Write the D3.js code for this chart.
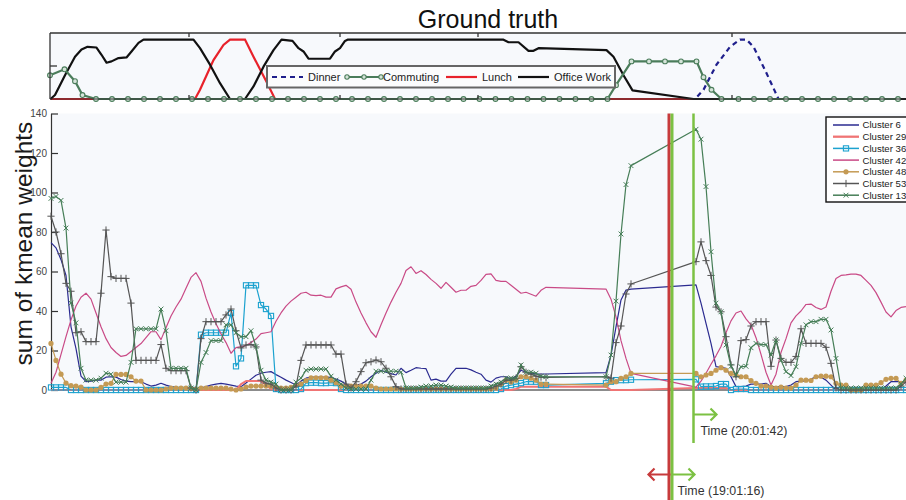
<!DOCTYPE html>
<html>
<head>
<meta charset="utf-8">
<script src="https://cdn.jsdelivr.net/npm/d3@7"></script>
<style>
  body { margin: 0; background: #fff; }
  svg { display: block; font-family: "Liberation Sans", Arial, Helvetica, sans-serif; }
</style>
</head>
<body>
<svg id="chart" width="906" height="500"></svg>
<script>
// ---- sample grid (sample index; two stretches of missing samples) ----
const sampleIdx = [...d3.range(0, 100), ...d3.range(111, 117), ...d3.range(129, 172)];

// ---- cluster weight series (one value per sample) ----
const cluster6 = [
  74.6,72,66,58,32,21,7,4.2,4.5,5,
  5,6.5,6.7,6.5,5.3,4.5,4.2,4.2,4.2,3,
  2,2.5,3.4,2.5,1.7,1.5,1,0.5,0,0.5,
  1,1.7,2.5,3,3.4,3,2.5,2,1.7,3.5,
  5.5,7.5,8.5,9,9.3,7.8,6.5,5,3.8,2.5,
  4.5,6,6.5,6.5,6.5,6.5,6.4,5.5,4.5,3,
  2,2.5,3,4.5,6.7,8.5,10,9,8.3,7.6,
  11,8.8,10,11.3,11,10.8,5,5.5,4.5,4.5,
  8,11,11,11,10.2,9,8,5,4,6,
  6.7,6.7,5.5,7,10,9,8.4,8.2,8.1,8.1,
  8.8,17.7,32,45.6,50.6,51.1,
  53.2,44,33.7,23.6,11.8,11.5,11,6.7,1.7,1.7,
  2,3,3,3,3.4,1.7,1.7,1.7,1.7,2.5,
  4.2,4.5,4.5,5.5,6.7,6.5,5,2.5,0,0,
  0,0,0,0,0,0,0,0,2,4.2,
  4.2,4.2,4
];
const cluster29 = [
  0,0,0,0,0,0,0,0,0,0,
  0,0,0,0,0,0,0,0,0,0,
  0,0,0,0,0,0,0,0,0,0,
  0,0,0,0,0,0,0,0,3,4.5,
  4.5,4.5,4.5,2.5,0.5,0,0,0,0,0,
  0,0,0,0,0,0,0,0,0,0,
  0,0,0,0,0,0,0,0,0,0,
  0,0,0,0,0,0,0,0,0,0,
  0,0,0,0,0,0,0,0,0,0,
  0,0,0,0.5,1.7,1.7,1.7,1.7,1.7,1.7,
  1.7,0,0,0,0,0,
  1,1,1,1,1,1,1,0,0,0,
  0,0,0,0,0,0,0,0,0,0,
  0,0,0,0,0,0,0,0,0,0,
  0,0,0,0,0,0,0,0,0,0,
  0,0,0
];
const cluster36 = [
  1.3,1.3,1.3,1.3,0,0,0,0,0,0,
  0,0,0,0,0,0,0,0,0,0,
  0,0,0,0,0,0,0,0,0,0,
  28,29,29,29,29,29,39,12,16,53,
  53,53,43,41,37.5,0.5,0,0,0,0,
  0.5,3.5,3.7,3.7,3.5,3.5,3.7,3.5,0.5,0,
  0,0,0,0,0,0,0,0,0,0,
  0,0,0,0,0,0,0,0,0,0,
  0,0,0,0,0,0,0,0,0,0,
  0.5,2,2.5,3,3.5,4.2,4.2,4.2,2.5,2.5,
  3.4,4.2,5,5,5,5.2,
  5.4,1.7,1.8,1.8,2,3,3,0,0.5,0.5,
  0.5,0,0,0,0,0,0,0,0,0,
  0,0,0,0,0,0,0,0,0,0,
  0,0,0,0,0,0,0,0,0,0,
  0,0,0
];
const cluster42 = [
  3.4,9,18,27,35.5,42.5,47,49,46,39,
  32,26,21.5,19,17,17.5,19.5,21.5,23.5,26.5,
  29.5,29.5,25.5,31.5,37.5,42,46,51.5,57,59.4,
  55,46.5,39.5,33.5,28.5,24,18.6,21.5,22,22.5,
  24,25.8,28.5,29,29.5,34.8,39,42.5,45,47,
  49,49.5,48,47.8,48,47,47,51.2,52.2,53,
  51,44.5,39,34,29.5,26.7,33,39,44.5,49.5,
  54,60.5,62.4,59,60.4,58.5,56,54,51.5,54.5,
  52,49.5,50.5,50.5,52.5,53,55.5,58.5,58.8,55.5,
  55,55,53,51,49,49.5,48.5,47.5,50.5,52,
  51.1,46,37,25,16,8.4,
  1.5,4.5,8.5,13,17.3,22,29,35,39,40,
  36,33,26.5,18,9,2.5,8,19,26,34,
  37.5,40,43.3,43.5,41.8,40.8,42,50,56.5,58,
  58.3,58.7,58.7,58,55.5,53,49.3,44.5,39.5,37,
  40.2,41.8,42.2
];
const cluster48 = [
  23.6,15,8,3.5,2.2,2,1.5,0,0,0,
  1.3,3,3.4,7.9,7.9,7.9,6.7,4.5,4.5,0,
  0,0,0,0.5,1,1,1,1,0.8,0.5,
  1,1,1,1,1,1,0.5,0,0.5,1.5,
  2,2,2,2,2,1.5,1,1,1.3,2.5,
  3,4.7,6.2,6.2,6.2,6.2,5,3.7,2,2,
  2,2,2,2,2,1,0.5,0.5,0.5,0.5,
  0.5,0.5,0.5,0.5,0.5,0.5,0.5,0.5,0.5,0.5,
  0.5,0.5,0.5,0.5,0.5,0.5,0.5,0.5,0.5,1,
  3,5,4,5,6.7,6.7,6,5,3,3,
  2.5,4.2,4.2,5.9,6.7,8.4,
  8.4,6.7,7.6,8.4,10,11.3,10,8.4,7.6,6.7,
  6.7,4.7,3.4,2,2,1.5,1,1.5,1,1,
  2.5,5,5,4.8,6.7,7,7,6.7,3.4,2.5,
  2.5,0,0,0,2.5,2.5,2.5,3.7,5.4,5.9,
  5.9,3.4,5
];
const cluster53 = [
  88,80,69,54,50,29,29.5,24.5,24.5,24.5,
  49,81,57.4,56.5,56.5,56.5,44,15,15,15,
  15,15,23,11,9.8,9.8,9.8,9.8,1,0,
  26,34.6,34.6,34.6,34.6,38,41,30,21.3,22.8,
  23,21.8,5,3.5,3,1,0,0,0,2,
  15,22.8,22.8,22.8,22.8,22.8,22.8,18.2,18.2,3,
  1,4.2,9.3,13.8,14.3,15.2,14.3,11,6.7,1.7,
  0.5,0.5,0.5,0.5,0.5,0.5,0.5,0.5,0.5,0.5,
  0.5,0.5,0.5,0.5,0.5,0.5,0.5,0.5,1,2,
  3,5,5,6,11.8,9,8,7,6.5,6.4,
  6.7,6,24,32.4,48.6,53.7,
  65,75,65.5,58,42,39.6,27,12.7,6.7,25,
  25.5,32.4,34.6,34.6,34.6,12,25.3,16,14,14,
  17,31,23.6,23.6,23.6,23.6,21.6,13.5,1,0,
  0,0,0,0,0,0,0,0,0,0,
  0,2,4
];
const cluster13 = [
  97,98,96,82,44,34,11,5,5,5,
  6,8.5,8,4,4,4,14,31,31,31,
  31,31,41,30,11,11,11,11,1,0,
  14,19,25,25,25,33,33,29,27,27,
  30,22,10,5,4,3,0,0,0,4,
  6,10,10.6,10.6,10.6,10.6,7,5,3,1,
  0.5,0.5,0.5,0.5,5,9.5,9.5,9.5,9.5,9.5,
  9,1,1,1,1.5,2,2,2.5,2.5,2,
  1.5,1,1,1,1,1,1,1,2,3,
  4,6,6,6,12.7,9,9,8.5,7,6.7,
  6.7,17.7,45,79,104,113.6,
  132,127,103,70,44,39.6,22.8,12,7.6,11.8,
  12,21.4,23.6,23,23,17.7,25.3,15,9.3,7.3,
  11.8,23.6,33,34.6,34.6,35.8,35.8,30.4,16,1,
  1,1,1,1,1,1,1,1,1,1,
  1,3,6
];

// ---- ground truth activities: [sample index, level] ----
const officeWork = [
  [-0.1,0],[0.8,0.06],[2.8,0.36],[4.8,0.64],[6.1,0.75],[7.3,0.79],[9.1,0.78],[10.1,0.67],
  [11.1,0.55],[12.1,0.57],[13.5,0.62],[15.1,0.63],[16.1,0.72],[17.5,0.85],[18.5,0.9],
  [28.5,0.9],[29.8,0.77],[31.8,0.52],[33.8,0.24],[35.8,0],[38.8,0],[40.5,0.19],[42.5,0.49],
  [44.5,0.74],[46.1,0.9],[48.3,0.88],[49.5,0.77],[50.5,0.72],[51.5,0.61],[55.8,0.61],
  [56.8,0.72],[57.8,0.77],[58.8,0.88],[59.4,0.9],[90.4,0.9],[91.5,0.86],[93.5,0.86],
  [95.5,0.73],[96.5,0.73],[97.5,0.77],[111.1,0.74],[112.5,0.64],[114.5,0.36],[116.3,0.13],
  [128.5,0],[171,0]
];
const lunch = [
  [-0.1,0],[28.8,0],[29.8,0.14],[32.5,0.59],[34.5,0.82],[35.8,0.9],[38.8,0.9],
  [40.5,0.64],[43.1,0.26],[44.8,0],[171,0]
];
const dinner = [
  [-0.1,0],[128.8,0],[130.5,0.14],[133.1,0.52],[135.8,0.79],[137.8,0.9],[139.1,0.9],
  [140.5,0.79],[142.8,0.44],[145.5,0],[171,0]
];
const commuting = [
  [-0.2,0.36],[2.7,0.45],[4.8,0.27],[6.3,0.06],[9,0],[12.2,0],[15.4,0],[18.6,0],[21.8,0],
  [25,0],[28.2,0],[31.4,0],[34.6,0],[37.8,0],[41,0],[44.2,0],[47.4,0],[50.6,0],[53.8,0],
  [57,0],[60.2,0],[63.4,0],[66.6,0],[69.8,0],[73,0],[76.2,0],[79.4,0],[82.5,0],[85.7,0],
  [88.9,0],[92.1,0],[95.3,0],[98.5,0],[101.7,0],[104.9,0],[108.1,0],[111.3,0],[113,0.21],
  [116.1,0.57],[119.6,0.57],[122.8,0.57],[126,0.57],[129.1,0.57],[130.5,0.33],[132.1,0.14],
  [134.1,0],[137.5,0],[140.6,0],[143.8,0],[147,0],[150.2,0],[153.4,0],[156.6,0],[159.8,0],
  [163,0],[166.2,0],[169.4,0]
];
const groundTicks = [27.6, 57.8, 85.4, 136.2];

// ---- axis ticks and time annotations ----
const yTicks = [0, 20, 40, 60, 80, 100, 120, 140];
const timeMarks = [
  { label: "Time (19:01:16)", t: 123.9 },
  { label: "Time (20:01:42)", t: 128.5 }
];

// ---- layout ----
const svg = d3.select("#chart");
const W = 906;
const x = d3.scaleLinear().domain([0, 171]).range([51, 906]);
const y = d3.scaleLinear().domain([0, 140]).range([390, 113.5]);
const yTop = d3.scaleLinear().domain([0, 1]).range([99, 33]);

// ===== Ground truth panel =====
svg.append("text")
  .attr("x", 488).attr("y", 28)
  .attr("text-anchor", "middle")
  .attr("font-size", 25).attr("fill", "#111")
  .text("Ground truth");

svg.append("rect")
  .attr("x", 50).attr("y", 33).attr("width", W - 50).attr("height", 66)
  .attr("fill", "#f7f9fc");

const gLine = d3.line().x(d => x(d[0])).y(d => yTop(d[1]));
const gt = svg.append("g");
gt.append("path").datum(dinner).attr("d", gLine)
  .attr("fill", "none").attr("stroke", "#1f1f8c").attr("stroke-width", 2.2)
  .attr("stroke-dasharray", "5,4");
gt.append("path").datum(lunch).attr("d", gLine)
  .attr("fill", "none").attr("stroke", "#e8222b").attr("stroke-width", 2.2);
gt.append("path").datum(officeWork).attr("d", gLine)
  .attr("fill", "none").attr("stroke", "#111").attr("stroke-width", 2.2)
  .attr("stroke-linejoin", "round");
gt.append("path").datum(commuting).attr("d", gLine)
  .attr("fill", "none").attr("stroke", "#4b7d5b").attr("stroke-width", 2.2);
gt.selectAll("circle.cm").data(commuting).join("circle")
  .attr("class", "cm")
  .attr("cx", d => x(d[0])).attr("cy", d => yTop(d[1])).attr("r", 2.4)
  .attr("fill", "#d5e4d9").attr("stroke", "#4b7d5b").attr("stroke-width", 1.1);

// panel frame and ticks
const frame = svg.append("g").attr("stroke", "#333").attr("stroke-width", 1.3);
frame.append("line").attr("x1", 50).attr("x2", W).attr("y1", 33).attr("y2", 33);
frame.append("line").attr("x1", 50).attr("x2", 50).attr("y1", 33).attr("y2", 99);
frame.append("line").attr("x1", 50).attr("x2", W).attr("y1", 99).attr("y2", 99).attr("stroke-width", 1);
frame.append("line").attr("x1", 50).attr("x2", 57).attr("y1", yTop(0.5)).attr("y2", yTop(0.5));
groundTicks.forEach(t => {
  frame.append("line").attr("x1", x(t)).attr("x2", x(t)).attr("y1", 33).attr("y2", 37);
  frame.append("line").attr("x1", x(t)).attr("x2", x(t)).attr("y1", 99).attr("y2", 95);
});

// ground truth legend
const gl = svg.append("g");
gl.append("rect").attr("x", 267).attr("y", 66).attr("width", 348).attr("height", 21.5)
  .attr("fill", "#fbfcfd").attr("stroke", "#666").attr("stroke-width", 2);
const glItems = [
  { name: "Dinner", color: "#1f1f8c", dash: "5,4", x0: 272, circles: false },
  { name: "Commuting", color: "#4b7d5b", dash: null, x0: 347, circles: true },
  { name: "Lunch", color: "#e8222b", dash: null, x0: 446, circles: false },
  { name: "Office Work", color: "#111", dash: null, x0: 518, circles: false }
];
glItems.forEach(it => {
  const ly = 77;
  gl.append("line").attr("x1", it.x0).attr("x2", it.x0 + (it.circles ? 34 : 31))
    .attr("y1", ly).attr("y2", ly)
    .attr("stroke", it.color).attr("stroke-width", 2.2)
    .attr("stroke-dasharray", it.dash);
  if (it.circles) {
    [0, 17, 34].forEach(dx => gl.append("circle").attr("cx", it.x0 + dx).attr("cy", ly).attr("r", 2.2)
      .attr("fill", "#d5e4d9").attr("stroke", it.color).attr("stroke-width", 1.1));
  }
  gl.append("text").attr("x", it.x0 + (it.circles ? 36 : 36)).attr("y", ly + 4)
    .attr("font-size", 11).attr("fill", "#222").text(it.name);
});

// ===== Cluster weights panel =====
svg.append("rect")
  .attr("x", 51).attr("y", 113.5).attr("width", W - 51).attr("height", 390 - 113.5)
  .attr("fill", "#f7f9fc");

// y axis, ticks pointing inward
const yAxis = d3.axisLeft(y).tickValues(yTicks).tickSizeInner(-7).tickSizeOuter(0).tickPadding(4);
const ya = svg.append("g").attr("transform", "translate(51,0)").call(yAxis);
ya.select(".domain").attr("stroke", "#333").attr("stroke-width", 1.2);
ya.selectAll(".tick line").attr("stroke", "#333").attr("stroke-width", 1.2);
ya.selectAll(".tick text").attr("font-size", 10).attr("fill", "#444")
  .attr("font-family", "'Liberation Sans', Arial, sans-serif");

svg.append("text")
  .attr("transform", "translate(32,243.5) rotate(-90)")
  .attr("text-anchor", "middle")
  .attr("font-size", 24.5).attr("fill", "#1a1a1a")
  .text("sum of kmean weights");

// baseline
svg.append("line").attr("x1", 51).attr("x2", W).attr("y1", 390).attr("y2", 390)
  .attr("stroke", "#8c8c8c").attr("stroke-width", 2);

const seriesList = [
  { name: "Cluster 6",  values: cluster6,  color: "#2b2b90", width: 1.2, marker: null },
  { name: "Cluster 29", values: cluster29, color: "#f07474", width: 2,   marker: null },
  { name: "Cluster 36", values: cluster36, color: "#1ca2cf", width: 1.2, marker: "square" },
  { name: "Cluster 42", values: cluster42, color: "#c94a86", width: 1.2, marker: null },
  { name: "Cluster 48", values: cluster48, color: "#c49a54", width: 1.2, marker: "circle" },
  { name: "Cluster 53", values: cluster53, color: "#555555", width: 1.2, marker: "plus" },
  { name: "Cluster 13", values: cluster13, color: "#467e57", width: 1.2, marker: "cross" }
];

function drawMarker(g, kind, cx, cy, color) {
  if (kind === "square") {
    g.append("rect").attr("x", cx - 2.6).attr("y", cy - 2.6).attr("width", 5.2).attr("height", 5.2)
      .attr("fill", "none").attr("stroke", color).attr("stroke-width", 1.1);
  } else if (kind === "circle") {
    g.append("circle").attr("cx", cx).attr("cy", cy).attr("r", 2.6).attr("fill", color);
  } else if (kind === "plus") {
    const s = 3.6;
    g.append("path").attr("d", `M${cx - s},${cy}H${cx + s}M${cx},${cy - s}V${cy + s}`)
      .attr("stroke", color).attr("stroke-width", 1);
  } else if (kind === "cross") {
    const s = 2.4;
    g.append("path").attr("d", `M${cx - s},${cy - s}L${cx + s},${cy + s}M${cx - s},${cy + s}L${cx + s},${cy - s}`)
      .attr("stroke", color).attr("stroke-width", 1);
  }
}

const line = d3.line().x(d => x(d.t)).y(d => y(d.v));
const plot = svg.append("g");
seriesList.forEach(s => {
  const pts = sampleIdx.map((t, i) => ({ t, v: s.values[i] }));
  const g = plot.append("g");
  g.append("path").datum(pts).attr("d", line)
    .attr("fill", "none").attr("stroke", s.color).attr("stroke-width", s.width)
    .attr("stroke-linejoin", "round");
  if (s.marker) pts.forEach(p => drawMarker(g, s.marker, x(p.t), y(p.v), s.color));
});

// cluster legend
const lg = svg.append("g");
lg.append("rect").attr("x", 826).attr("y", 117).attr("width", 95).attr("height", 85)
  .attr("fill", "#fff").attr("stroke", "#111").attr("stroke-width", 1.4);
seriesList.forEach((s, k) => {
  const ly = 125 + k * 11.7;
  lg.append("line").attr("x1", 833).attr("x2", 859).attr("y1", ly).attr("y2", ly)
    .attr("stroke", s.color).attr("stroke-width", s.width + 0.3);
  if (s.marker) drawMarker(lg, s.marker, 846, ly, s.color);
  lg.append("text").attr("x", 862.5).attr("y", ly + 3.4)
    .attr("font-size", 9.6).attr("fill", "#222").text(s.name);
});

// ===== time annotations =====
const red = "#c73b3c", green = "#7cc143";
const ann = svg.append("g").attr("fill", "none").attr("stroke-linecap", "butt");
const xa = x(timeMarks[0].t), xb = x(timeMarks[1].t);

ann.append("line").attr("x1", xa - 1.5).attr("x2", xa - 1.5).attr("y1", 113.5).attr("y2", 500)
  .attr("stroke", red).attr("stroke-width", 3);
ann.append("line").attr("x1", xa + 1.5).attr("x2", xa + 1.5).attr("y1", 113.5).attr("y2", 500)
  .attr("stroke", green).attr("stroke-width", 3);
ann.append("line").attr("x1", xb).attr("x2", xb).attr("y1", 113.5).attr("y2", 443)
  .attr("stroke", green).attr("stroke-width", 2.5);

function arrow(x0, x1, yy, color) {
  const dir = x1 > x0 ? 1 : -1;
  ann.append("path")
    .attr("d", `M${x0},${yy}H${x1}M${x1 - dir * 6},${yy - 6}L${x1},${yy}L${x1 - dir * 6},${yy + 6}`)
    .attr("stroke", color).attr("stroke-width", 2.2);
}
arrow(xb, xb + 23, 414.5, green);
arrow(xa, xa - 22, 474.5, red);
arrow(xa + 1.5, xa + 24, 474.5, green);

svg.append("text").attr("x", xb + 7).attr("y", 434.5)
  .attr("font-size", 12.4).attr("fill", "#333").text(timeMarks[1].label);
svg.append("text").attr("x", xa + 7).attr("y", 494.5)
  .attr("font-size", 12.4).attr("fill", "#333").text(timeMarks[0].label);
</script>
</body>
</html>
